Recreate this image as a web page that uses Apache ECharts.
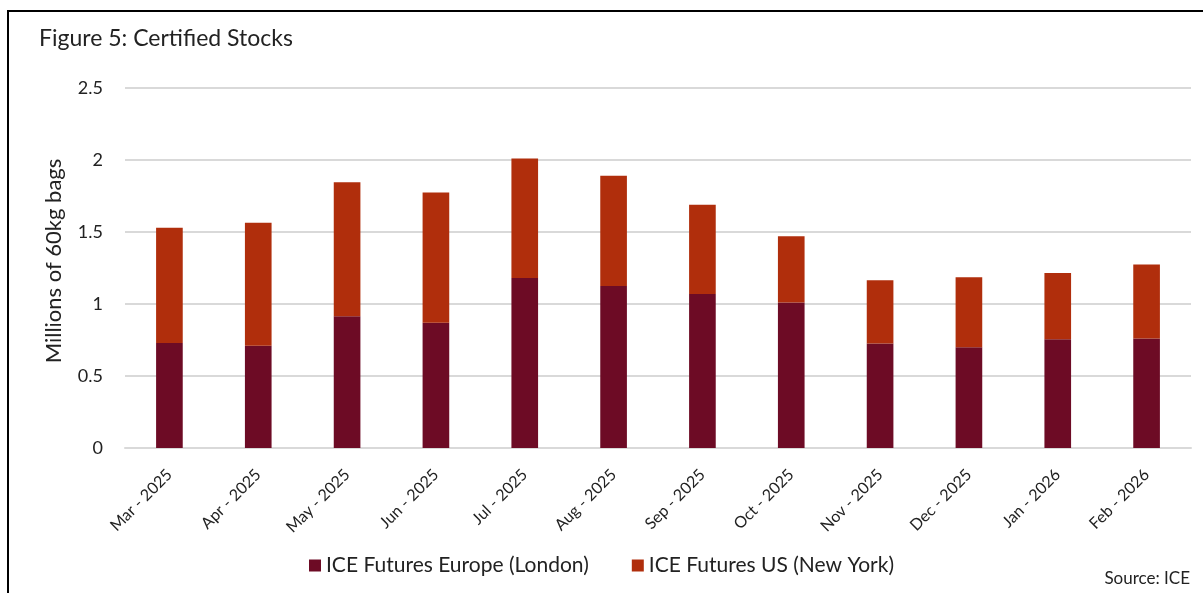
<!DOCTYPE html>
<html lang="en">
<head>
    <meta charset="UTF-8">
    <title>Certified Stocks</title>
    <script src="https://cdn.jsdelivr.net/npm/echarts@6/dist/echarts.min.js"></script>
    <style>
        html, body { margin: 0; padding: 0; background: #fff; }
        #main { width: 1203px; height: 593px; }
    </style>
</head>
<body>
    <div id="main"></div>

    <script>
        // months on the x axis
        const months = ['Mar - 2025', 'Apr - 2025', 'May - 2025', 'Jun - 2025', 'Jul - 2025', 'Aug - 2025',
            'Sep - 2025', 'Oct - 2025', 'Nov - 2025', 'Dec - 2025', 'Jan - 2026', 'Feb - 2026'];
        // millions of 60kg bags
        const london = [0.73, 0.71, 0.915, 0.87, 1.18, 1.125, 1.07, 1.01, 0.725, 0.70, 0.755, 0.76];
        const newYork = [0.80, 0.855, 0.93, 0.905, 0.83, 0.765, 0.62, 0.46, 0.44, 0.485, 0.46, 0.515];

        const fontName = 'Lato';
        const textCol = '#222';

        const option = {
            backgroundColor: '#fff',
            animation: false,
            textStyle: { fontFamily: fontName },
            title: {
                text: 'Figure 5: Certified Stocks',
                left: 34,
                top: 22,
                textStyle: { fontSize: 23, fontWeight: 'normal', color: textCol, fontFamily: fontName }
            },
            // frame round the figure (no bottom edge in the original)
            graphic: [{
                type: 'polyline',
                shape: { points: [[8, 600], [8, 11], [1210, 11]] },
                style: { stroke: '#000', lineWidth: 2, fill: null }
            }, {
                type: 'text',
                right: 13,
                top: 570,
                style: { text: 'Source: ICE', fontSize: 17, fill: textCol, fontFamily: fontName }
            }],
            legend: {
                bottom: 12,
                left: 'center',
                itemWidth: 12,
                itemHeight: 12,
                itemGap: 43,
                icon: 'rect',
                textStyle: { fontSize: 21, color: textCol, fontFamily: fontName },
                data: ['ICE Futures Europe (London)', 'ICE Futures US (New York)']
            },
            grid: { left: 125, right: 12, top: 88, bottom: 145, containLabel: false },
            xAxis: {
                type: 'category',
                data: months,
                axisLine: { lineStyle: { color: '#d9d9d9', width: 2 } },
                axisTick: { show: false },
                axisLabel: { rotate: 45, fontSize: 16, color: textCol, margin: 24, interval: 0 }
            },
            yAxis: {
                type: 'value',
                min: 0,
                max: 2.5,
                interval: 0.5,
                name: 'Millions of 60kg bags',
                nameLocation: 'middle',
                nameGap: 60,
                nameTextStyle: { fontSize: 22, color: textCol, padding: [0, 0, 0, 14] },
                axisLine: { show: false },
                axisTick: { show: false },
                splitLine: { lineStyle: { color: '#d9d9d9', width: 2 } },
                axisLabel: { fontSize: 18, color: textCol, margin: 22 }
            },
            series: [{
                name: 'ICE Futures Europe (London)',
                type: 'bar',
                stack: 'stocks',
                barWidth: '30%',
                itemStyle: { color: '#6d0b25' },
                data: london
            }, {
                name: 'ICE Futures US (New York)',
                type: 'bar',
                stack: 'stocks',
                barWidth: '30%',
                itemStyle: { color: '#b02e0c' },
                data: newYork
            }]
        };

        var myChart = echarts.init(document.getElementById('main'));
        myChart.setOption(option);
    </script>
</body>
</html>
